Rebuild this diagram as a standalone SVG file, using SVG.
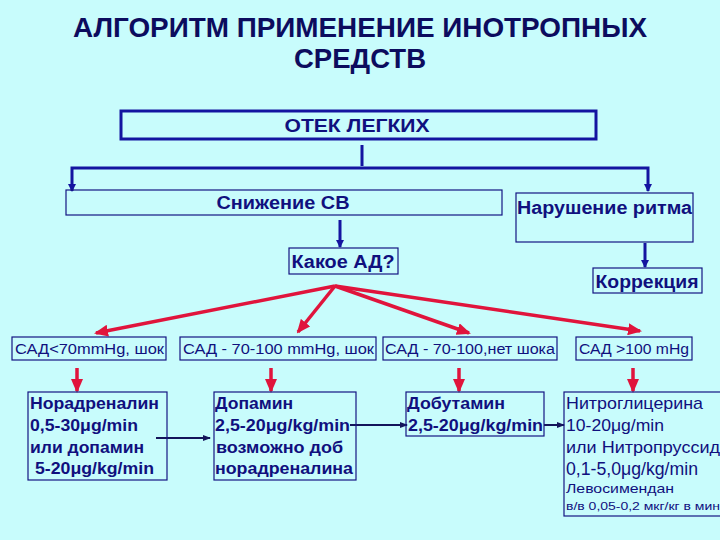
<svg xmlns="http://www.w3.org/2000/svg" width="720" height="540" viewBox="0 0 720 540">
<style>
.bg{fill:#C8FCFC}
.box{fill:none;stroke:#141482;stroke-width:1.2}
.thick{fill:none;stroke:#1414A0;stroke-width:3}
.t{font-family:"Liberation Sans",Arial,sans-serif;fill:#10107E}
.b{font-weight:bold}
.title{font-family:"Liberation Sans",Arial,sans-serif;font-weight:bold;fill:#0C0C5E;font-size:28px}
.blue{stroke:#1414A0;stroke-width:3;fill:none}
.red{stroke:#E0143C;stroke-width:3.5;fill:none}
.nav{stroke:#14145A;stroke-width:2;fill:none}
</style>
<defs>
<marker id="ab" markerUnits="userSpaceOnUse" markerWidth="8" markerHeight="8" refX="7" refY="4" orient="auto"><path d="M0,0 L8,4 L0,8 z" fill="#1414A0"/></marker>
<marker id="ar" markerUnits="userSpaceOnUse" markerWidth="14" markerHeight="12" refX="12" refY="6" orient="auto"><path d="M0,0 L14,6 L0,12 z" fill="#E0143C"/></marker>
<marker id="an" markerUnits="userSpaceOnUse" markerWidth="8" markerHeight="8" refX="7" refY="4" orient="auto"><path d="M0,1 L8,4 L0,7 z" fill="#14145A"/></marker>
</defs>
<rect class="bg" x="0" y="0" width="720" height="540"/>
<g id="title">
<text class="title" x="360" y="37" text-anchor="middle" textLength="574" lengthAdjust="spacingAndGlyphs">АЛГОРИТМ ПРИМЕНЕНИЕ ИНОТРОПНЫХ</text>
<text class="title" x="360" y="68" text-anchor="middle" textLength="132" lengthAdjust="spacingAndGlyphs">СРЕДСТВ</text>
</g>
<g id="connectors">
<line class="blue" x1="362" y1="145" x2="362" y2="166"/>
<path class="blue" d="M362,168 L72,168 L72,191" marker-end="url(#ab)"/>
<path class="blue" d="M362,168 L648,168 L648,191" marker-end="url(#ab)"/>
<line class="blue" x1="340" y1="220" x2="340" y2="247" marker-end="url(#ab)"/>
<line class="blue" x1="645" y1="243" x2="645" y2="267" marker-end="url(#ab)"/>
<line class="red" x1="335" y1="286" x2="96" y2="333" marker-end="url(#ar)"/>
<line class="red" x1="335" y1="286" x2="298" y2="332" marker-end="url(#ar)"/>
<line class="red" x1="335" y1="286" x2="469" y2="333" marker-end="url(#ar)"/>
<line class="red" x1="335" y1="286" x2="640" y2="331" marker-end="url(#ar)"/>
<line class="red" x1="77" y1="368" x2="77" y2="391" marker-end="url(#ar)"/>
<line class="red" x1="271" y1="368" x2="271" y2="391" marker-end="url(#ar)"/>
<line class="red" x1="459" y1="368" x2="459" y2="391" marker-end="url(#ar)"/>
<line class="red" x1="633" y1="368" x2="633" y2="391" marker-end="url(#ar)"/>
<line class="nav" x1="156" y1="438" x2="210" y2="438" marker-end="url(#an)"/>
<line class="nav" x1="350" y1="425" x2="407" y2="425" marker-end="url(#an)"/>
<line class="nav" x1="544" y1="425" x2="564" y2="425" marker-end="url(#an)"/>
</g>
<g id="otek">
<rect class="thick" x="121" y="111" width="475" height="28"/>
<text class="t b" x="357" y="132" font-size="19" text-anchor="middle" textLength="145" lengthAdjust="spacingAndGlyphs">ОТЕК ЛЕГКИХ</text>
</g>
<g id="snizhenie">
<rect class="box" x="66" y="190" width="436" height="25"/>
<text class="t b" x="283" y="209" font-size="18" text-anchor="middle" textLength="133" lengthAdjust="spacingAndGlyphs">Снижение СВ</text>
</g>
<g id="narushenie">
<rect class="box" x="516" y="193" width="177" height="49"/>
<text class="t b" x="517" y="214" font-size="18" textLength="175" lengthAdjust="spacingAndGlyphs">Нарушение ритма</text>
</g>
<g id="kakoe">
<rect class="box" x="289" y="248" width="109" height="26"/>
<text class="t b" x="343" y="268" font-size="18" text-anchor="middle" textLength="103" lengthAdjust="spacingAndGlyphs">Какое АД?</text>
</g>
<g id="korrekciya">
<rect class="box" x="593" y="268" width="109" height="25"/>
<text class="t b" x="647" y="288" font-size="18" text-anchor="middle" textLength="103" lengthAdjust="spacingAndGlyphs">Коррекция</text>
</g>
<g id="sad1">
<rect class="box" x="12" y="337" width="154" height="23"/>
<text class="t" x="15" y="354" font-size="14" textLength="149" lengthAdjust="spacingAndGlyphs">САД&lt;70mmHg, шок</text>
</g>
<g id="sad2">
<rect class="box" x="180" y="337" width="196" height="23"/>
<text class="t" x="183" y="354" font-size="14" textLength="191" lengthAdjust="spacingAndGlyphs">САД - 70-100 mmHg, шок</text>
</g>
<g id="sad3">
<rect class="box" x="383" y="337" width="174" height="23"/>
<text class="t" x="385" y="354" font-size="14" textLength="170" lengthAdjust="spacingAndGlyphs">САД - 70-100,нет шока</text>
</g>
<g id="sad4">
<rect class="box" x="576" y="337" width="116" height="23"/>
<text class="t" x="579" y="354" font-size="14" textLength="110" lengthAdjust="spacingAndGlyphs">САД &gt;100 mHg</text>
</g>
<g id="noradrenalin">
<rect class="box" x="28" y="392" width="139" height="88"/>
<text class="t b" font-size="16">
<tspan x="30" y="409" textLength="129" lengthAdjust="spacingAndGlyphs">Норадреналин</tspan>
<tspan x="30" y="431" textLength="108" lengthAdjust="spacingAndGlyphs">0,5-30μg/min</tspan>
<tspan x="30" y="453" textLength="114" lengthAdjust="spacingAndGlyphs">или допамин</tspan>
<tspan x="35" y="474" textLength="119" lengthAdjust="spacingAndGlyphs">5-20μg/kg/min</tspan>
</text>
</g>
<g id="dopamin">
<rect class="box" x="214" y="392" width="142" height="88"/>
<text class="t b" font-size="16">
<tspan x="215" y="409" textLength="78" lengthAdjust="spacingAndGlyphs">Допамин</tspan>
<tspan x="215" y="431" textLength="135" lengthAdjust="spacingAndGlyphs">2,5-20μg/kg/min</tspan>
<tspan x="216" y="453" textLength="127" lengthAdjust="spacingAndGlyphs">возможно доб</tspan>
<tspan x="215" y="474" textLength="138" lengthAdjust="spacingAndGlyphs">норадреналина</tspan>
</text>
</g>
<g id="dobutamin">
<rect class="box" x="406" y="392" width="138" height="44"/>
<text class="t b" font-size="16">
<tspan x="407" y="409" textLength="98" lengthAdjust="spacingAndGlyphs">Добутамин</tspan>
<tspan x="408" y="431" textLength="135" lengthAdjust="spacingAndGlyphs">2,5-20μg/kg/min</tspan>
</text>
</g>
<g id="nitro">
<rect class="box" x="564" y="392" width="160" height="124"/>
<text class="t" font-size="17">
<tspan x="566" y="409" textLength="137" lengthAdjust="spacingAndGlyphs">Нитроглицерина</tspan>
<tspan x="566" y="431" textLength="98" lengthAdjust="spacingAndGlyphs">10-20μg/min</tspan>
<tspan x="566" y="453" textLength="154" lengthAdjust="spacingAndGlyphs">или Нитропруссид</tspan>
<tspan x="566" y="475" font-size="19" textLength="132" lengthAdjust="spacingAndGlyphs">0,1-5,0μg/kg/min</tspan>
<tspan x="566" y="493" font-size="13" textLength="108" lengthAdjust="spacingAndGlyphs">Левосимендан</tspan>
<tspan x="566" y="510" font-size="11" textLength="154" lengthAdjust="spacingAndGlyphs">в/в 0,05-0,2 мкг/кг в мин</tspan>
</text>
</g>
</svg>
